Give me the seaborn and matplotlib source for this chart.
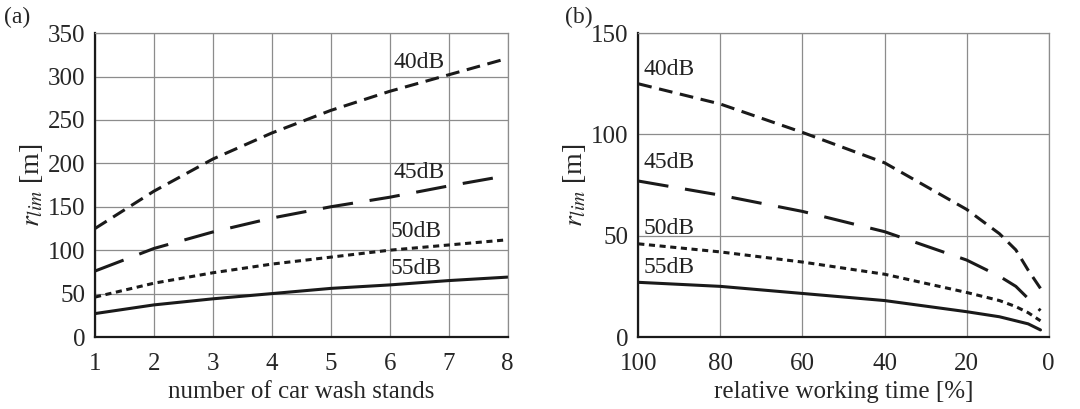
import numpy as np
import pandas as pd
import matplotlib
matplotlib.use("Agg")
import matplotlib.pyplot as plt
from matplotlib.ticker import MultipleLocator
import seaborn as sns

# (a) limit distance vs number of car wash stands
stands = [1, 2, 3, 4, 5, 6, 7, 8]
a_40 = [125, 168, 205, 235, 261, 283, 302, 321]
a_45 = [76, 102, 121, 137, 150, 161, 174, 186]
a_50 = [46, 62, 74, 84, 92, 100, 106, 112]
a_55 = [27, 37, 44, 50, 56, 60, 65, 69]

# (b) limit distance vs relative working time
work = [100, 80, 60, 40, 20, 12, 8, 5, 2]
b_40 = [125, 115, 101, 86, 63, 51, 43, 33, 24]
b_45 = [77, 70, 62, 52, 38, 30, 25, 19, 13]
b_50 = [46, 42, 37, 31, 22, 18, 15, 12, 8]
b_55 = [27, 25, 21.5, 18, 12.5, 10, 8, 6.5, 3.5]

levels = ['40dB', '45dB', '50dB', '55dB']
styles = {
    '40dB': (0, (4.5, 2.5)),
    '45dB': (0, (10, 5.5)),
    '50dB': (0, (2.0, 1.5)),
    '55dB': '-',
}

sns.set_style("white")
plt.rcParams['font.family'] = ['Liberation Serif', 'DejaVu Serif']
plt.rcParams['mathtext.fontset'] = 'stix'

fig = plt.figure(figsize=(10.8, 4.09), dpi=100)
ax1 = fig.add_axes([0.088, 0.176, 0.382, 0.743])
ax2 = fig.add_axes([0.591, 0.176, 0.380, 0.743])

df_a = pd.DataFrame({'x': stands * 4,
                     'y': a_40 + a_45 + a_50 + a_55,
                     'level': sum([[l] * len(stands) for l in levels], [])})
df_b = pd.DataFrame({'x': work * 4,
                     'y': b_40 + b_45 + b_50 + b_55,
                     'level': sum([[l] * len(work) for l in levels], [])})

for ax, df in [(ax1, df_a), (ax2, df_b)]:
    for l in levels:
        sub = df[df['level'] == l]
        sns.lineplot(data=sub, x='x', y='y', ax=ax, color='#1a1a1a', lw=2.2,
                     linestyle=styles[l], sort=False, estimator=None, legend=False)

# panel (a) formatting
ax1.set_xlim(1, 8)
ax1.set_ylim(0, 350)
ax1.xaxis.set_major_locator(MultipleLocator(1))
ax1.yaxis.set_major_locator(MultipleLocator(50))
ax1.yaxis.set_minor_locator(MultipleLocator(25))
ax1.set_xlabel('number of car wash stands', fontsize=18, labelpad=4)
ax1.set_ylabel(r'$r_{lim}$ [m]', fontsize=20, labelpad=2)
label_pos_a = [(6.5, 316), (6.5, 190), (6.45, 121), (6.45, 79)]
for l, (x, y) in zip(levels, label_pos_a):
    ax1.text(x, y, l, fontsize=17, ha='center', va='center', color='#222222')

# panel (b) formatting
ax2.set_xlim(100, 0)
ax2.set_ylim(0, 150)
ax2.xaxis.set_major_locator(MultipleLocator(20))
ax2.xaxis.set_minor_locator(MultipleLocator(5))
ax2.yaxis.set_major_locator(MultipleLocator(50))
ax2.yaxis.set_minor_locator(MultipleLocator(25))
ax2.set_xlabel('relative working time [%]', fontsize=18, labelpad=4)
ax2.set_ylabel(r'$r_{lim}$ [m]', fontsize=20, labelpad=2)
label_pos_b = [(92.5, 132), (92.5, 86), (92.5, 53.5), (92.5, 34.5)]
for l, (x, y) in zip(levels, label_pos_b):
    ax2.text(x, y, l, fontsize=17, ha='center', va='center', color='#222222')

for ax in (ax1, ax2):
    ax.grid(True, which='major', color='#8c8c8c', lw=0.9)
    ax.set_axisbelow(True)
    for s in ['top', 'right']:
        ax.spines[s].set_color('#8c8c8c')
        ax.spines[s].set_linewidth(0.9)
    for s in ['left', 'bottom']:
        ax.spines[s].set_color('#1a1a1a')
        ax.spines[s].set_linewidth(1.6)
    ax.tick_params(axis='both', which='major', labelsize=18, color='#1a1a1a',
                   width=1.2, length=5, pad=2)
    ax.tick_params(axis='x', which='major', direction='inout', length=9, pad=7)
    ax.tick_params(axis='y', which='major', direction='out', length=5)
    ax.tick_params(axis='y', which='minor', direction='out', length=3, width=1.0)

ax2.tick_params(axis='x', which='minor', direction='in', length=4, width=1.0)

fig.text(0.004, 0.958, '(a)', fontsize=17, ha='left', va='center')
fig.text(0.523, 0.958, '(b)', fontsize=17, ha='left', va='center')

fig.savefig('out.png', dpi=100)
